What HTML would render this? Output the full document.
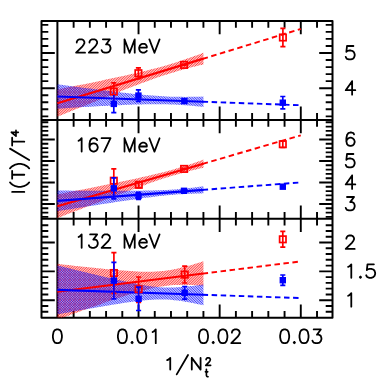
<!DOCTYPE html>
<html><head><meta charset="utf-8"><title>I(T)/T^4 vs 1/Nt^2</title>
<style>html,body{margin:0;padding:0;background:#fff;font-family:"Liberation Sans",sans-serif;}svg{display:block;}</style>
</head><body>
<svg width="382" height="382" viewBox="0 0 382 382">
<defs>
<clipPath id="c1"><rect x="41.50" y="20.90" width="291.00" height="99.00"/></clipPath>
<clipPath id="c2"><rect x="41.50" y="119.90" width="291.00" height="98.90"/></clipPath>
<clipPath id="c3"><rect x="41.50" y="218.80" width="291.00" height="99.00"/></clipPath>
</defs>
<rect width="382" height="382" fill="#fff"/>
<path d="M73.63 20.90V27.70M73.63 113.10V126.70M73.63 212.00V225.60M73.63 311.00V317.80M89.85 20.90V27.70M89.85 113.10V126.70M89.85 212.00V225.60M89.85 311.00V317.80M106.08 20.90V27.70M106.08 113.10V126.70M106.08 212.00V225.60M106.08 311.00V317.80M122.30 20.90V27.70M122.30 113.10V126.70M122.30 212.00V225.60M122.30 311.00V317.80M138.53 20.90V34.20M138.53 106.60V133.20M138.53 205.50V232.10M138.53 304.50V317.80M154.76 20.90V27.70M154.76 113.10V126.70M154.76 212.00V225.60M154.76 311.00V317.80M170.98 20.90V27.70M170.98 113.10V126.70M170.98 212.00V225.60M170.98 311.00V317.80M187.21 20.90V27.70M187.21 113.10V126.70M187.21 212.00V225.60M187.21 311.00V317.80M203.43 20.90V27.70M203.43 113.10V126.70M203.43 212.00V225.60M203.43 311.00V317.80M219.66 20.90V34.20M219.66 106.60V133.20M219.66 205.50V232.10M219.66 304.50V317.80M235.89 20.90V27.70M235.89 113.10V126.70M235.89 212.00V225.60M235.89 311.00V317.80M252.11 20.90V27.70M252.11 113.10V126.70M252.11 212.00V225.60M252.11 311.00V317.80M268.34 20.90V27.70M268.34 113.10V126.70M268.34 212.00V225.60M268.34 311.00V317.80M284.56 20.90V27.70M284.56 113.10V126.70M284.56 212.00V225.60M284.56 311.00V317.80M300.79 20.90V34.20M300.79 106.60V133.20M300.79 205.50V232.10M300.79 304.50V317.80M317.02 20.90V27.70M317.02 113.10V126.70M317.02 212.00V225.60M317.02 311.00V317.80M41.50 116.36H48.30M332.50 116.36H325.70M41.50 109.32H48.30M332.50 109.32H325.70M41.50 102.28H48.30M332.50 102.28H325.70M41.50 95.24H48.30M332.50 95.24H325.70M41.50 88.20H54.80M332.50 88.20H319.20M41.50 81.16H48.30M332.50 81.16H325.70M41.50 74.12H48.30M332.50 74.12H325.70M41.50 67.08H48.30M332.50 67.08H325.70M41.50 60.04H48.30M332.50 60.04H325.70M41.50 53.00H54.80M332.50 53.00H319.20M41.50 45.96H48.30M332.50 45.96H325.70M41.50 38.92H48.30M332.50 38.92H325.70M41.50 31.88H48.30M332.50 31.88H325.70M41.50 24.84H48.30M332.50 24.84H325.70M41.50 216.90H48.30M332.50 216.90H325.70M41.50 212.60H48.30M332.50 212.60H325.70M41.50 208.30H48.30M332.50 208.30H325.70M41.50 204.00H54.80M332.50 204.00H319.20M41.50 199.70H48.30M332.50 199.70H325.70M41.50 195.40H48.30M332.50 195.40H325.70M41.50 191.10H48.30M332.50 191.10H325.70M41.50 186.80H48.30M332.50 186.80H325.70M41.50 182.50H54.80M332.50 182.50H319.20M41.50 178.20H48.30M332.50 178.20H325.70M41.50 173.90H48.30M332.50 173.90H325.70M41.50 169.60H48.30M332.50 169.60H325.70M41.50 165.30H48.30M332.50 165.30H325.70M41.50 161.00H54.80M332.50 161.00H319.20M41.50 156.70H48.30M332.50 156.70H325.70M41.50 152.40H48.30M332.50 152.40H325.70M41.50 148.10H48.30M332.50 148.10H325.70M41.50 143.80H48.30M332.50 143.80H325.70M41.50 139.50H54.80M332.50 139.50H319.20M41.50 135.20H48.30M332.50 135.20H325.70M41.50 130.90H48.30M332.50 130.90H325.70M41.50 126.60H48.30M332.50 126.60H325.70M41.50 122.30H48.30M332.50 122.30H325.70M41.50 311.74H48.30M332.50 311.74H325.70M41.50 305.97H48.30M332.50 305.97H325.70M41.50 300.20H54.80M332.50 300.20H319.20M41.50 294.43H48.30M332.50 294.43H325.70M41.50 288.66H48.30M332.50 288.66H325.70M41.50 282.89H48.30M332.50 282.89H325.70M41.50 277.12H48.30M332.50 277.12H325.70M41.50 271.35H54.80M332.50 271.35H319.20M41.50 265.58H48.30M332.50 265.58H325.70M41.50 259.81H48.30M332.50 259.81H325.70M41.50 254.04H48.30M332.50 254.04H325.70M41.50 248.27H48.30M332.50 248.27H325.70M41.50 242.50H54.80M332.50 242.50H319.20M41.50 236.73H48.30M332.50 236.73H325.70M41.50 230.96H48.30M332.50 230.96H325.70M41.50 225.19H48.30M332.50 225.19H325.70" stroke="#000" stroke-width="1.90" fill="none"/>
<path d="M41.50 20.90H332.50V317.80H41.50Z M41.50 119.90H332.50 M41.50 218.80H332.50 M57.40 20.90V317.80" stroke="#000" stroke-width="2.00" fill="none" stroke-linejoin="round"/>
<g clip-path="url(#c1)">
<clipPath id="bc1red"><polygon points="57.40,89.51 61.05,88.78 64.70,88.05 68.35,87.32 72.00,86.59 75.65,85.85 79.31,85.12 82.96,84.38 86.61,83.63 90.26,82.89 93.91,82.14 97.56,81.39 101.21,80.63 104.86,79.87 108.51,79.10 112.16,78.33 115.81,77.55 119.46,76.77 123.12,75.97 126.77,75.17 130.42,74.35 134.07,73.52 137.72,72.68 141.37,71.82 145.02,70.94 148.67,70.04 152.32,69.12 155.97,68.17 159.62,67.19 163.27,66.18 166.93,65.13 170.58,64.05 174.23,62.94 177.88,61.78 181.53,60.59 185.18,59.37 188.83,58.12 192.48,56.83 196.13,55.52 199.78,54.19 203.43,52.84 203.43,64.43 199.78,65.31 196.13,66.20 192.48,67.12 188.83,68.06 185.18,69.03 181.53,70.04 177.88,71.08 174.23,72.15 170.58,73.26 166.93,74.40 163.27,75.59 159.62,76.80 155.97,78.05 152.32,79.33 148.67,80.63 145.02,81.96 141.37,83.31 137.72,84.67 134.07,86.06 130.42,87.46 126.77,88.87 123.12,90.29 119.46,91.72 115.81,93.16 112.16,94.61 108.51,96.07 104.86,97.53 101.21,98.99 97.56,100.46 93.91,101.94 90.26,103.42 86.61,104.90 82.96,106.38 79.31,107.87 75.65,109.36 72.00,110.85 68.35,112.34 64.70,113.84 61.05,115.34 57.40,116.84"/></clipPath>
<g clip-path="url(#bc1red)"><path d="M-43.60 119.90L55.40 20.90M-41.94 119.90L57.06 20.90M-40.27 119.90L58.73 20.90M-38.61 119.90L60.39 20.90M-36.94 119.90L62.06 20.90M-35.28 119.90L63.72 20.90M-33.62 119.90L65.38 20.90M-31.95 119.90L67.05 20.90M-30.29 119.90L68.71 20.90M-28.62 119.90L70.38 20.90M-26.96 119.90L72.04 20.90M-25.30 119.90L73.70 20.90M-23.63 119.90L75.37 20.90M-21.97 119.90L77.03 20.90M-20.30 119.90L78.70 20.90M-18.64 119.90L80.36 20.90M-16.98 119.90L82.02 20.90M-15.31 119.90L83.69 20.90M-13.65 119.90L85.35 20.90M-11.98 119.90L87.02 20.90M-10.32 119.90L88.68 20.90M-8.66 119.90L90.34 20.90M-6.99 119.90L92.01 20.90M-5.33 119.90L93.67 20.90M-3.66 119.90L95.34 20.90M-2.00 119.90L97.00 20.90M-0.34 119.90L98.66 20.90M1.33 119.90L100.33 20.90M2.99 119.90L101.99 20.90M4.66 119.90L103.66 20.90M6.32 119.90L105.32 20.90M7.98 119.90L106.98 20.90M9.65 119.90L108.65 20.90M11.31 119.90L110.31 20.90M12.98 119.90L111.98 20.90M14.64 119.90L113.64 20.90M16.30 119.90L115.30 20.90M17.97 119.90L116.97 20.90M19.63 119.90L118.63 20.90M21.30 119.90L120.30 20.90M22.96 119.90L121.96 20.90M24.62 119.90L123.62 20.90M26.29 119.90L125.29 20.90M27.95 119.90L126.95 20.90M29.62 119.90L128.62 20.90M31.28 119.90L130.28 20.90M32.94 119.90L131.94 20.90M34.61 119.90L133.61 20.90M36.27 119.90L135.27 20.90M37.94 119.90L136.94 20.90M39.60 119.90L138.60 20.90M41.26 119.90L140.26 20.90M42.93 119.90L141.93 20.90M44.59 119.90L143.59 20.90M46.26 119.90L145.26 20.90M47.92 119.90L146.92 20.90M49.58 119.90L148.58 20.90M51.25 119.90L150.25 20.90M52.91 119.90L151.91 20.90M54.58 119.90L153.58 20.90M56.24 119.90L155.24 20.90M57.90 119.90L156.90 20.90M59.57 119.90L158.57 20.90M61.23 119.90L160.23 20.90M62.90 119.90L161.90 20.90M64.56 119.90L163.56 20.90M66.22 119.90L165.22 20.90M67.89 119.90L166.89 20.90M69.55 119.90L168.55 20.90M71.22 119.90L170.22 20.90M72.88 119.90L171.88 20.90M74.54 119.90L173.54 20.90M76.21 119.90L175.21 20.90M77.87 119.90L176.87 20.90M79.54 119.90L178.54 20.90M81.20 119.90L180.20 20.90M82.86 119.90L181.86 20.90M84.53 119.90L183.53 20.90M86.19 119.90L185.19 20.90M87.86 119.90L186.86 20.90M89.52 119.90L188.52 20.90M91.18 119.90L190.18 20.90M92.85 119.90L191.85 20.90M94.51 119.90L193.51 20.90M96.18 119.90L195.18 20.90M97.84 119.90L196.84 20.90M99.50 119.90L198.50 20.90M101.17 119.90L200.17 20.90M102.83 119.90L201.83 20.90M104.50 119.90L203.50 20.90M106.16 119.90L205.16 20.90M107.82 119.90L206.82 20.90M109.49 119.90L208.49 20.90M111.15 119.90L210.15 20.90M112.82 119.90L211.82 20.90M114.48 119.90L213.48 20.90M116.14 119.90L215.14 20.90M117.81 119.90L216.81 20.90M119.47 119.90L218.47 20.90M121.14 119.90L220.14 20.90M122.80 119.90L221.80 20.90M124.46 119.90L223.46 20.90M126.13 119.90L225.13 20.90M127.79 119.90L226.79 20.90M129.46 119.90L228.46 20.90M131.12 119.90L230.12 20.90M132.78 119.90L231.78 20.90M134.45 119.90L233.45 20.90M136.11 119.90L235.11 20.90M137.78 119.90L236.78 20.90M139.44 119.90L238.44 20.90M141.10 119.90L240.10 20.90M142.77 119.90L241.77 20.90M144.43 119.90L243.43 20.90M146.10 119.90L245.10 20.90M147.76 119.90L246.76 20.90M149.42 119.90L248.42 20.90M151.09 119.90L250.09 20.90M152.75 119.90L251.75 20.90M154.42 119.90L253.42 20.90M156.08 119.90L255.08 20.90M157.74 119.90L256.74 20.90M159.41 119.90L258.41 20.90M161.07 119.90L260.07 20.90M162.74 119.90L261.74 20.90M164.40 119.90L263.40 20.90M166.06 119.90L265.06 20.90M167.73 119.90L266.73 20.90M169.39 119.90L268.39 20.90M171.06 119.90L270.06 20.90M172.72 119.90L271.72 20.90M174.38 119.90L273.38 20.90M176.05 119.90L275.05 20.90M177.71 119.90L276.71 20.90M179.38 119.90L278.38 20.90M181.04 119.90L280.04 20.90M182.70 119.90L281.70 20.90M184.37 119.90L283.37 20.90M186.03 119.90L285.03 20.90M187.70 119.90L286.70 20.90M189.36 119.90L288.36 20.90M191.02 119.90L290.02 20.90M192.69 119.90L291.69 20.90M194.35 119.90L293.35 20.90M196.02 119.90L295.02 20.90M197.68 119.90L296.68 20.90M199.34 119.90L298.34 20.90M201.01 119.90L300.01 20.90M202.67 119.90L301.67 20.90M204.34 119.90L303.34 20.90M206.00 119.90L305.00 20.90M207.66 119.90L306.66 20.90M209.33 119.90L308.33 20.90M210.99 119.90L309.99 20.90M212.66 119.90L311.66 20.90M214.32 119.90L313.32 20.90M215.98 119.90L314.98 20.90M217.65 119.90L316.65 20.90M219.31 119.90L318.31 20.90M220.98 119.90L319.98 20.90M222.64 119.90L321.64 20.90M224.30 119.90L323.30 20.90M225.97 119.90L324.97 20.90M227.63 119.90L326.63 20.90M229.30 119.90L328.30 20.90M230.96 119.90L329.96 20.90M232.62 119.90L331.62 20.90M234.29 119.90L333.29 20.90M235.95 119.90L334.95 20.90M237.62 119.90L336.62 20.90M239.28 119.90L338.28 20.90M240.94 119.90L339.94 20.90M242.61 119.90L341.61 20.90M244.27 119.90L343.27 20.90M245.94 119.90L344.94 20.90M247.60 119.90L346.60 20.90M249.26 119.90L348.26 20.90M250.93 119.90L349.93 20.90M252.59 119.90L351.59 20.90M254.26 119.90L353.26 20.90M255.92 119.90L354.92 20.90M257.58 119.90L356.58 20.90M259.25 119.90L358.25 20.90M260.91 119.90L359.91 20.90M262.58 119.90L361.58 20.90M264.24 119.90L363.24 20.90M265.90 119.90L364.90 20.90M267.57 119.90L366.57 20.90M269.23 119.90L368.23 20.90M270.90 119.90L369.90 20.90M272.56 119.90L371.56 20.90M274.22 119.90L373.22 20.90M275.89 119.90L374.89 20.90M277.55 119.90L376.55 20.90M279.22 119.90L378.22 20.90M280.88 119.90L379.88 20.90M282.54 119.90L381.54 20.90M284.21 119.90L383.21 20.90M285.87 119.90L384.87 20.90M287.54 119.90L386.54 20.90M289.20 119.90L388.20 20.90M290.86 119.90L389.86 20.90M292.53 119.90L391.53 20.90M294.19 119.90L393.19 20.90M295.86 119.90L394.86 20.90M297.52 119.90L396.52 20.90M299.18 119.90L398.18 20.90M300.85 119.90L399.85 20.90M302.51 119.90L401.51 20.90M304.18 119.90L403.18 20.90" stroke="#ff0000" stroke-width="0.74" fill="none"/></g>
<clipPath id="bc1blue"><polygon points="57.40,84.31 61.05,84.79 64.70,85.28 68.35,85.76 72.00,86.24 75.65,86.72 79.31,87.20 82.96,87.67 86.61,88.14 90.26,88.61 93.91,89.08 97.56,89.54 101.21,90.00 104.86,90.46 108.51,90.91 112.16,91.36 115.81,91.80 119.46,92.23 123.12,92.66 126.77,93.08 130.42,93.48 134.07,93.88 137.72,94.26 141.37,94.62 145.02,94.97 148.67,95.29 152.32,95.60 155.97,95.87 159.62,96.12 163.27,96.33 166.93,96.51 170.58,96.65 174.23,96.76 177.88,96.83 181.53,96.87 185.18,96.88 188.83,96.86 192.48,96.82 196.13,96.75 199.78,96.66 203.43,96.55 203.43,106.93 199.78,106.56 196.13,106.20 192.48,105.87 188.83,105.56 185.18,105.28 181.53,105.02 177.88,104.80 174.23,104.61 170.58,104.45 166.93,104.33 163.27,104.25 159.62,104.20 155.97,104.18 152.32,104.19 148.67,104.23 145.02,104.29 141.37,104.38 137.72,104.48 134.07,104.59 130.42,104.72 126.77,104.87 123.12,105.02 119.46,105.18 115.81,105.35 112.16,105.53 108.51,105.71 104.86,105.90 101.21,106.09 97.56,106.29 93.91,106.49 90.26,106.69 86.61,106.90 82.96,107.11 79.31,107.32 75.65,107.53 72.00,107.75 68.35,107.97 64.70,108.18 61.05,108.40 57.40,108.63"/></clipPath>
<g clip-path="url(#bc1blue)"><path d="M-43.60 20.90L55.40 119.90M-41.94 20.90L57.06 119.90M-40.27 20.90L58.73 119.90M-38.61 20.90L60.39 119.90M-36.94 20.90L62.06 119.90M-35.28 20.90L63.72 119.90M-33.62 20.90L65.38 119.90M-31.95 20.90L67.05 119.90M-30.29 20.90L68.71 119.90M-28.62 20.90L70.38 119.90M-26.96 20.90L72.04 119.90M-25.30 20.90L73.70 119.90M-23.63 20.90L75.37 119.90M-21.97 20.90L77.03 119.90M-20.30 20.90L78.70 119.90M-18.64 20.90L80.36 119.90M-16.98 20.90L82.02 119.90M-15.31 20.90L83.69 119.90M-13.65 20.90L85.35 119.90M-11.98 20.90L87.02 119.90M-10.32 20.90L88.68 119.90M-8.66 20.90L90.34 119.90M-6.99 20.90L92.01 119.90M-5.33 20.90L93.67 119.90M-3.66 20.90L95.34 119.90M-2.00 20.90L97.00 119.90M-0.34 20.90L98.66 119.90M1.33 20.90L100.33 119.90M2.99 20.90L101.99 119.90M4.66 20.90L103.66 119.90M6.32 20.90L105.32 119.90M7.98 20.90L106.98 119.90M9.65 20.90L108.65 119.90M11.31 20.90L110.31 119.90M12.98 20.90L111.98 119.90M14.64 20.90L113.64 119.90M16.30 20.90L115.30 119.90M17.97 20.90L116.97 119.90M19.63 20.90L118.63 119.90M21.30 20.90L120.30 119.90M22.96 20.90L121.96 119.90M24.62 20.90L123.62 119.90M26.29 20.90L125.29 119.90M27.95 20.90L126.95 119.90M29.62 20.90L128.62 119.90M31.28 20.90L130.28 119.90M32.94 20.90L131.94 119.90M34.61 20.90L133.61 119.90M36.27 20.90L135.27 119.90M37.94 20.90L136.94 119.90M39.60 20.90L138.60 119.90M41.26 20.90L140.26 119.90M42.93 20.90L141.93 119.90M44.59 20.90L143.59 119.90M46.26 20.90L145.26 119.90M47.92 20.90L146.92 119.90M49.58 20.90L148.58 119.90M51.25 20.90L150.25 119.90M52.91 20.90L151.91 119.90M54.58 20.90L153.58 119.90M56.24 20.90L155.24 119.90M57.90 20.90L156.90 119.90M59.57 20.90L158.57 119.90M61.23 20.90L160.23 119.90M62.90 20.90L161.90 119.90M64.56 20.90L163.56 119.90M66.22 20.90L165.22 119.90M67.89 20.90L166.89 119.90M69.55 20.90L168.55 119.90M71.22 20.90L170.22 119.90M72.88 20.90L171.88 119.90M74.54 20.90L173.54 119.90M76.21 20.90L175.21 119.90M77.87 20.90L176.87 119.90M79.54 20.90L178.54 119.90M81.20 20.90L180.20 119.90M82.86 20.90L181.86 119.90M84.53 20.90L183.53 119.90M86.19 20.90L185.19 119.90M87.86 20.90L186.86 119.90M89.52 20.90L188.52 119.90M91.18 20.90L190.18 119.90M92.85 20.90L191.85 119.90M94.51 20.90L193.51 119.90M96.18 20.90L195.18 119.90M97.84 20.90L196.84 119.90M99.50 20.90L198.50 119.90M101.17 20.90L200.17 119.90M102.83 20.90L201.83 119.90M104.50 20.90L203.50 119.90M106.16 20.90L205.16 119.90M107.82 20.90L206.82 119.90M109.49 20.90L208.49 119.90M111.15 20.90L210.15 119.90M112.82 20.90L211.82 119.90M114.48 20.90L213.48 119.90M116.14 20.90L215.14 119.90M117.81 20.90L216.81 119.90M119.47 20.90L218.47 119.90M121.14 20.90L220.14 119.90M122.80 20.90L221.80 119.90M124.46 20.90L223.46 119.90M126.13 20.90L225.13 119.90M127.79 20.90L226.79 119.90M129.46 20.90L228.46 119.90M131.12 20.90L230.12 119.90M132.78 20.90L231.78 119.90M134.45 20.90L233.45 119.90M136.11 20.90L235.11 119.90M137.78 20.90L236.78 119.90M139.44 20.90L238.44 119.90M141.10 20.90L240.10 119.90M142.77 20.90L241.77 119.90M144.43 20.90L243.43 119.90M146.10 20.90L245.10 119.90M147.76 20.90L246.76 119.90M149.42 20.90L248.42 119.90M151.09 20.90L250.09 119.90M152.75 20.90L251.75 119.90M154.42 20.90L253.42 119.90M156.08 20.90L255.08 119.90M157.74 20.90L256.74 119.90M159.41 20.90L258.41 119.90M161.07 20.90L260.07 119.90M162.74 20.90L261.74 119.90M164.40 20.90L263.40 119.90M166.06 20.90L265.06 119.90M167.73 20.90L266.73 119.90M169.39 20.90L268.39 119.90M171.06 20.90L270.06 119.90M172.72 20.90L271.72 119.90M174.38 20.90L273.38 119.90M176.05 20.90L275.05 119.90M177.71 20.90L276.71 119.90M179.38 20.90L278.38 119.90M181.04 20.90L280.04 119.90M182.70 20.90L281.70 119.90M184.37 20.90L283.37 119.90M186.03 20.90L285.03 119.90M187.70 20.90L286.70 119.90M189.36 20.90L288.36 119.90M191.02 20.90L290.02 119.90M192.69 20.90L291.69 119.90M194.35 20.90L293.35 119.90M196.02 20.90L295.02 119.90M197.68 20.90L296.68 119.90M199.34 20.90L298.34 119.90M201.01 20.90L300.01 119.90M202.67 20.90L301.67 119.90M204.34 20.90L303.34 119.90M206.00 20.90L305.00 119.90M207.66 20.90L306.66 119.90M209.33 20.90L308.33 119.90M210.99 20.90L309.99 119.90M212.66 20.90L311.66 119.90M214.32 20.90L313.32 119.90M215.98 20.90L314.98 119.90M217.65 20.90L316.65 119.90M219.31 20.90L318.31 119.90M220.98 20.90L319.98 119.90M222.64 20.90L321.64 119.90M224.30 20.90L323.30 119.90M225.97 20.90L324.97 119.90M227.63 20.90L326.63 119.90M229.30 20.90L328.30 119.90M230.96 20.90L329.96 119.90M232.62 20.90L331.62 119.90M234.29 20.90L333.29 119.90M235.95 20.90L334.95 119.90M237.62 20.90L336.62 119.90M239.28 20.90L338.28 119.90M240.94 20.90L339.94 119.90M242.61 20.90L341.61 119.90M244.27 20.90L343.27 119.90M245.94 20.90L344.94 119.90M247.60 20.90L346.60 119.90M249.26 20.90L348.26 119.90M250.93 20.90L349.93 119.90M252.59 20.90L351.59 119.90M254.26 20.90L353.26 119.90M255.92 20.90L354.92 119.90M257.58 20.90L356.58 119.90M259.25 20.90L358.25 119.90M260.91 20.90L359.91 119.90M262.58 20.90L361.58 119.90M264.24 20.90L363.24 119.90M265.90 20.90L364.90 119.90M267.57 20.90L366.57 119.90M269.23 20.90L368.23 119.90M270.90 20.90L369.90 119.90M272.56 20.90L371.56 119.90M274.22 20.90L373.22 119.90M275.89 20.90L374.89 119.90M277.55 20.90L376.55 119.90M279.22 20.90L378.22 119.90M280.88 20.90L379.88 119.90M282.54 20.90L381.54 119.90M284.21 20.90L383.21 119.90M285.87 20.90L384.87 119.90M287.54 20.90L386.54 119.90M289.20 20.90L388.20 119.90M290.86 20.90L389.86 119.90M292.53 20.90L391.53 119.90M294.19 20.90L393.19 119.90M295.86 20.90L394.86 119.90M297.52 20.90L396.52 119.90M299.18 20.90L398.18 119.90M300.85 20.90L399.85 119.90M302.51 20.90L401.51 119.90M304.18 20.90L403.18 119.90" stroke="#0000ff" stroke-width="0.74" fill="none"/></g>
<line x1="57.40" y1="103.17" x2="203.43" y2="58.63" stroke="#ff0000" stroke-width="2.15"/>
<line x1="202.60" y1="58.89" x2="300.79" y2="28.94" stroke="#ff0000" stroke-width="1.90" stroke-dasharray="5.5 3.55"/>
<line x1="57.40" y1="96.47" x2="203.43" y2="101.74" stroke="#0000ff" stroke-width="2.15"/>
<line x1="202.60" y1="101.71" x2="300.79" y2="105.25" stroke="#0000ff" stroke-width="1.90" stroke-dasharray="5.5 3.55"/>
<path d="M113.80 82.90V100.50M111.25 82.90H116.35" stroke="#ff0000" stroke-width="1.70" fill="none"/>
<rect x="110.60" y="88.40" width="6.40" height="6.40" fill="none" stroke="#ff0000" stroke-width="1.7"/>
<path d="M138.40 67.80V78.60M135.85 67.80H140.95M135.85 78.60H140.95" stroke="#ff0000" stroke-width="1.70" fill="none"/>
<rect x="135.20" y="70.00" width="6.40" height="6.40" fill="none" stroke="#ff0000" stroke-width="1.7"/>
<path d="M184.10 64.30V65.50M181.55 64.30H186.65M181.55 65.50H186.65" stroke="#ff0000" stroke-width="1.70" fill="none"/>
<rect x="180.90" y="61.70" width="6.40" height="6.40" fill="none" stroke="#ff0000" stroke-width="1.7"/>
<path d="M282.90 28.30V46.70M280.35 28.30H285.45M280.35 46.70H285.45" stroke="#ff0000" stroke-width="1.70" fill="none"/>
<rect x="279.70" y="34.30" width="6.40" height="6.40" fill="none" stroke="#ff0000" stroke-width="1.7"/>
<path d="M113.80 95.10V112.70M111.25 112.70H116.35" stroke="#0000ff" stroke-width="1.70" fill="none"/>
<rect x="110.60" y="100.70" width="6.40" height="6.40" fill="#0000ff"/>
<path d="M138.40 89.80V101.40M135.85 89.80H140.95M135.85 101.40H140.95" stroke="#0000ff" stroke-width="1.70" fill="none"/>
<rect x="135.20" y="92.40" width="6.40" height="6.40" fill="#0000ff"/>
<path d="M184.40 99.40V102.60M181.85 99.40H186.95M181.85 102.60H186.95" stroke="#0000ff" stroke-width="1.70" fill="none"/>
<rect x="181.20" y="97.80" width="6.40" height="6.40" fill="#0000ff"/>
<path d="M282.80 96.50V108.90M280.25 96.50H285.35M280.25 108.90H285.35" stroke="#0000ff" stroke-width="1.70" fill="none"/>
<rect x="279.60" y="99.50" width="6.40" height="6.40" fill="#0000ff"/>
</g>
<g clip-path="url(#c2)">
<clipPath id="bc2red"><polygon points="57.40,194.46 61.05,193.74 64.70,193.02 68.35,192.29 72.00,191.57 75.65,190.84 79.31,190.11 82.96,189.39 86.61,188.66 90.26,187.93 93.91,187.19 97.56,186.46 101.21,185.72 104.86,184.98 108.51,184.24 112.16,183.50 115.81,182.75 119.46,182.00 123.12,181.24 126.77,180.48 130.42,179.71 134.07,178.93 137.72,178.14 141.37,177.34 145.02,176.53 148.67,175.71 152.32,174.86 155.97,174.00 159.62,173.10 163.27,172.18 166.93,171.22 170.58,170.23 174.23,169.19 177.88,168.12 181.53,167.00 185.18,165.84 188.83,164.65 192.48,163.43 196.13,162.17 199.78,160.90 203.43,159.60 203.43,167.76 199.78,168.59 196.13,169.44 192.48,170.32 188.83,171.22 185.18,172.16 181.53,173.13 177.88,174.14 174.23,175.20 170.58,176.29 166.93,177.43 163.27,178.60 159.62,179.80 155.97,181.04 152.32,182.30 148.67,183.59 145.02,184.89 141.37,186.21 137.72,187.54 134.07,188.88 130.42,190.24 126.77,191.60 123.12,192.96 119.46,194.33 115.81,195.71 112.16,197.09 108.51,198.47 104.86,199.86 101.21,201.25 97.56,202.64 93.91,204.04 90.26,205.44 86.61,206.83 82.96,208.23 79.31,209.64 75.65,211.04 72.00,212.44 68.35,213.85 64.70,215.25 61.05,216.66 57.40,218.06"/></clipPath>
<g clip-path="url(#bc2red)"><path d="M-43.50 218.80L55.40 119.90M-41.84 218.80L57.06 119.90M-40.17 218.80L58.73 119.90M-38.51 218.80L60.39 119.90M-36.84 218.80L62.06 119.90M-35.18 218.80L63.72 119.90M-33.52 218.80L65.38 119.90M-31.85 218.80L67.05 119.90M-30.19 218.80L68.71 119.90M-28.52 218.80L70.38 119.90M-26.86 218.80L72.04 119.90M-25.20 218.80L73.70 119.90M-23.53 218.80L75.37 119.90M-21.87 218.80L77.03 119.90M-20.20 218.80L78.70 119.90M-18.54 218.80L80.36 119.90M-16.88 218.80L82.02 119.90M-15.21 218.80L83.69 119.90M-13.55 218.80L85.35 119.90M-11.88 218.80L87.02 119.90M-10.22 218.80L88.68 119.90M-8.56 218.80L90.34 119.90M-6.89 218.80L92.01 119.90M-5.23 218.80L93.67 119.90M-3.56 218.80L95.34 119.90M-1.90 218.80L97.00 119.90M-0.24 218.80L98.66 119.90M1.43 218.80L100.33 119.90M3.09 218.80L101.99 119.90M4.76 218.80L103.66 119.90M6.42 218.80L105.32 119.90M8.08 218.80L106.98 119.90M9.75 218.80L108.65 119.90M11.41 218.80L110.31 119.90M13.08 218.80L111.98 119.90M14.74 218.80L113.64 119.90M16.40 218.80L115.30 119.90M18.07 218.80L116.97 119.90M19.73 218.80L118.63 119.90M21.40 218.80L120.30 119.90M23.06 218.80L121.96 119.90M24.72 218.80L123.62 119.90M26.39 218.80L125.29 119.90M28.05 218.80L126.95 119.90M29.72 218.80L128.62 119.90M31.38 218.80L130.28 119.90M33.04 218.80L131.94 119.90M34.71 218.80L133.61 119.90M36.37 218.80L135.27 119.90M38.04 218.80L136.94 119.90M39.70 218.80L138.60 119.90M41.36 218.80L140.26 119.90M43.03 218.80L141.93 119.90M44.69 218.80L143.59 119.90M46.36 218.80L145.26 119.90M48.02 218.80L146.92 119.90M49.68 218.80L148.58 119.90M51.35 218.80L150.25 119.90M53.01 218.80L151.91 119.90M54.68 218.80L153.58 119.90M56.34 218.80L155.24 119.90M58.00 218.80L156.90 119.90M59.67 218.80L158.57 119.90M61.33 218.80L160.23 119.90M63.00 218.80L161.90 119.90M64.66 218.80L163.56 119.90M66.32 218.80L165.22 119.90M67.99 218.80L166.89 119.90M69.65 218.80L168.55 119.90M71.32 218.80L170.22 119.90M72.98 218.80L171.88 119.90M74.64 218.80L173.54 119.90M76.31 218.80L175.21 119.90M77.97 218.80L176.87 119.90M79.64 218.80L178.54 119.90M81.30 218.80L180.20 119.90M82.96 218.80L181.86 119.90M84.63 218.80L183.53 119.90M86.29 218.80L185.19 119.90M87.96 218.80L186.86 119.90M89.62 218.80L188.52 119.90M91.28 218.80L190.18 119.90M92.95 218.80L191.85 119.90M94.61 218.80L193.51 119.90M96.28 218.80L195.18 119.90M97.94 218.80L196.84 119.90M99.60 218.80L198.50 119.90M101.27 218.80L200.17 119.90M102.93 218.80L201.83 119.90M104.60 218.80L203.50 119.90M106.26 218.80L205.16 119.90M107.92 218.80L206.82 119.90M109.59 218.80L208.49 119.90M111.25 218.80L210.15 119.90M112.92 218.80L211.82 119.90M114.58 218.80L213.48 119.90M116.24 218.80L215.14 119.90M117.91 218.80L216.81 119.90M119.57 218.80L218.47 119.90M121.24 218.80L220.14 119.90M122.90 218.80L221.80 119.90M124.56 218.80L223.46 119.90M126.23 218.80L225.13 119.90M127.89 218.80L226.79 119.90M129.56 218.80L228.46 119.90M131.22 218.80L230.12 119.90M132.88 218.80L231.78 119.90M134.55 218.80L233.45 119.90M136.21 218.80L235.11 119.90M137.88 218.80L236.78 119.90M139.54 218.80L238.44 119.90M141.20 218.80L240.10 119.90M142.87 218.80L241.77 119.90M144.53 218.80L243.43 119.90M146.20 218.80L245.10 119.90M147.86 218.80L246.76 119.90M149.52 218.80L248.42 119.90M151.19 218.80L250.09 119.90M152.85 218.80L251.75 119.90M154.52 218.80L253.42 119.90M156.18 218.80L255.08 119.90M157.84 218.80L256.74 119.90M159.51 218.80L258.41 119.90M161.17 218.80L260.07 119.90M162.84 218.80L261.74 119.90M164.50 218.80L263.40 119.90M166.16 218.80L265.06 119.90M167.83 218.80L266.73 119.90M169.49 218.80L268.39 119.90M171.16 218.80L270.06 119.90M172.82 218.80L271.72 119.90M174.48 218.80L273.38 119.90M176.15 218.80L275.05 119.90M177.81 218.80L276.71 119.90M179.48 218.80L278.38 119.90M181.14 218.80L280.04 119.90M182.80 218.80L281.70 119.90M184.47 218.80L283.37 119.90M186.13 218.80L285.03 119.90M187.80 218.80L286.70 119.90M189.46 218.80L288.36 119.90M191.12 218.80L290.02 119.90M192.79 218.80L291.69 119.90M194.45 218.80L293.35 119.90M196.12 218.80L295.02 119.90M197.78 218.80L296.68 119.90M199.44 218.80L298.34 119.90M201.11 218.80L300.01 119.90M202.77 218.80L301.67 119.90M204.44 218.80L303.34 119.90M206.10 218.80L305.00 119.90M207.76 218.80L306.66 119.90M209.43 218.80L308.33 119.90M211.09 218.80L309.99 119.90M212.76 218.80L311.66 119.90M214.42 218.80L313.32 119.90M216.08 218.80L314.98 119.90M217.75 218.80L316.65 119.90M219.41 218.80L318.31 119.90M221.08 218.80L319.98 119.90M222.74 218.80L321.64 119.90M224.40 218.80L323.30 119.90M226.07 218.80L324.97 119.90M227.73 218.80L326.63 119.90M229.40 218.80L328.30 119.90M231.06 218.80L329.96 119.90M232.72 218.80L331.62 119.90M234.39 218.80L333.29 119.90M236.05 218.80L334.95 119.90M237.72 218.80L336.62 119.90M239.38 218.80L338.28 119.90M241.04 218.80L339.94 119.90M242.71 218.80L341.61 119.90M244.37 218.80L343.27 119.90M246.04 218.80L344.94 119.90M247.70 218.80L346.60 119.90M249.36 218.80L348.26 119.90M251.03 218.80L349.93 119.90M252.69 218.80L351.59 119.90M254.36 218.80L353.26 119.90M256.02 218.80L354.92 119.90M257.68 218.80L356.58 119.90M259.35 218.80L358.25 119.90M261.01 218.80L359.91 119.90M262.68 218.80L361.58 119.90M264.34 218.80L363.24 119.90M266.00 218.80L364.90 119.90M267.67 218.80L366.57 119.90M269.33 218.80L368.23 119.90M271.00 218.80L369.90 119.90M272.66 218.80L371.56 119.90M274.32 218.80L373.22 119.90M275.99 218.80L374.89 119.90M277.65 218.80L376.55 119.90M279.32 218.80L378.22 119.90M280.98 218.80L379.88 119.90M282.64 218.80L381.54 119.90M284.31 218.80L383.21 119.90M285.97 218.80L384.87 119.90M287.64 218.80L386.54 119.90M289.30 218.80L388.20 119.90M290.96 218.80L389.86 119.90M292.63 218.80L391.53 119.90M294.29 218.80L393.19 119.90M295.96 218.80L394.86 119.90M297.62 218.80L396.52 119.90M299.28 218.80L398.18 119.90M300.95 218.80L399.85 119.90M302.61 218.80L401.51 119.90M304.28 218.80L403.18 119.90" stroke="#ff0000" stroke-width="0.74" fill="none"/></g>
<clipPath id="bc2blue"><polygon points="57.40,190.56 61.05,190.58 64.70,190.60 68.35,190.62 72.00,190.64 75.65,190.66 79.31,190.68 82.96,190.70 86.61,190.72 90.26,190.73 93.91,190.75 97.56,190.76 101.21,190.77 104.86,190.78 108.51,190.79 112.16,190.79 115.81,190.79 119.46,190.79 123.12,190.78 126.77,190.77 130.42,190.75 134.07,190.73 137.72,190.69 141.37,190.65 145.02,190.60 148.67,190.53 152.32,190.45 155.97,190.35 159.62,190.22 163.27,190.07 166.93,189.89 170.58,189.67 174.23,189.42 177.88,189.14 181.53,188.81 185.18,188.46 188.83,188.07 192.48,187.65 196.13,187.21 199.78,186.75 203.43,186.27 203.43,193.36 199.78,193.43 196.13,193.52 192.48,193.64 188.83,193.77 185.18,193.93 181.53,194.13 177.88,194.36 174.23,194.63 170.58,194.93 166.93,195.27 163.27,195.64 159.62,196.04 155.97,196.47 152.32,196.92 148.67,197.39 145.02,197.87 141.37,198.37 137.72,198.88 134.07,199.40 130.42,199.93 126.77,200.47 123.12,201.01 119.46,201.55 115.81,202.10 112.16,202.65 108.51,203.21 104.86,203.77 101.21,204.33 97.56,204.89 93.91,205.46 90.26,206.03 86.61,206.60 82.96,207.17 79.31,207.74 75.65,208.31 72.00,208.88 68.35,209.45 64.70,210.03 61.05,210.60 57.40,211.18"/></clipPath>
<g clip-path="url(#bc2blue)"><path d="M-43.50 119.90L55.40 218.80M-41.84 119.90L57.06 218.80M-40.17 119.90L58.73 218.80M-38.51 119.90L60.39 218.80M-36.84 119.90L62.06 218.80M-35.18 119.90L63.72 218.80M-33.52 119.90L65.38 218.80M-31.85 119.90L67.05 218.80M-30.19 119.90L68.71 218.80M-28.52 119.90L70.38 218.80M-26.86 119.90L72.04 218.80M-25.20 119.90L73.70 218.80M-23.53 119.90L75.37 218.80M-21.87 119.90L77.03 218.80M-20.20 119.90L78.70 218.80M-18.54 119.90L80.36 218.80M-16.88 119.90L82.02 218.80M-15.21 119.90L83.69 218.80M-13.55 119.90L85.35 218.80M-11.88 119.90L87.02 218.80M-10.22 119.90L88.68 218.80M-8.56 119.90L90.34 218.80M-6.89 119.90L92.01 218.80M-5.23 119.90L93.67 218.80M-3.56 119.90L95.34 218.80M-1.90 119.90L97.00 218.80M-0.24 119.90L98.66 218.80M1.43 119.90L100.33 218.80M3.09 119.90L101.99 218.80M4.76 119.90L103.66 218.80M6.42 119.90L105.32 218.80M8.08 119.90L106.98 218.80M9.75 119.90L108.65 218.80M11.41 119.90L110.31 218.80M13.08 119.90L111.98 218.80M14.74 119.90L113.64 218.80M16.40 119.90L115.30 218.80M18.07 119.90L116.97 218.80M19.73 119.90L118.63 218.80M21.40 119.90L120.30 218.80M23.06 119.90L121.96 218.80M24.72 119.90L123.62 218.80M26.39 119.90L125.29 218.80M28.05 119.90L126.95 218.80M29.72 119.90L128.62 218.80M31.38 119.90L130.28 218.80M33.04 119.90L131.94 218.80M34.71 119.90L133.61 218.80M36.37 119.90L135.27 218.80M38.04 119.90L136.94 218.80M39.70 119.90L138.60 218.80M41.36 119.90L140.26 218.80M43.03 119.90L141.93 218.80M44.69 119.90L143.59 218.80M46.36 119.90L145.26 218.80M48.02 119.90L146.92 218.80M49.68 119.90L148.58 218.80M51.35 119.90L150.25 218.80M53.01 119.90L151.91 218.80M54.68 119.90L153.58 218.80M56.34 119.90L155.24 218.80M58.00 119.90L156.90 218.80M59.67 119.90L158.57 218.80M61.33 119.90L160.23 218.80M63.00 119.90L161.90 218.80M64.66 119.90L163.56 218.80M66.32 119.90L165.22 218.80M67.99 119.90L166.89 218.80M69.65 119.90L168.55 218.80M71.32 119.90L170.22 218.80M72.98 119.90L171.88 218.80M74.64 119.90L173.54 218.80M76.31 119.90L175.21 218.80M77.97 119.90L176.87 218.80M79.64 119.90L178.54 218.80M81.30 119.90L180.20 218.80M82.96 119.90L181.86 218.80M84.63 119.90L183.53 218.80M86.29 119.90L185.19 218.80M87.96 119.90L186.86 218.80M89.62 119.90L188.52 218.80M91.28 119.90L190.18 218.80M92.95 119.90L191.85 218.80M94.61 119.90L193.51 218.80M96.28 119.90L195.18 218.80M97.94 119.90L196.84 218.80M99.60 119.90L198.50 218.80M101.27 119.90L200.17 218.80M102.93 119.90L201.83 218.80M104.60 119.90L203.50 218.80M106.26 119.90L205.16 218.80M107.92 119.90L206.82 218.80M109.59 119.90L208.49 218.80M111.25 119.90L210.15 218.80M112.92 119.90L211.82 218.80M114.58 119.90L213.48 218.80M116.24 119.90L215.14 218.80M117.91 119.90L216.81 218.80M119.57 119.90L218.47 218.80M121.24 119.90L220.14 218.80M122.90 119.90L221.80 218.80M124.56 119.90L223.46 218.80M126.23 119.90L225.13 218.80M127.89 119.90L226.79 218.80M129.56 119.90L228.46 218.80M131.22 119.90L230.12 218.80M132.88 119.90L231.78 218.80M134.55 119.90L233.45 218.80M136.21 119.90L235.11 218.80M137.88 119.90L236.78 218.80M139.54 119.90L238.44 218.80M141.20 119.90L240.10 218.80M142.87 119.90L241.77 218.80M144.53 119.90L243.43 218.80M146.20 119.90L245.10 218.80M147.86 119.90L246.76 218.80M149.52 119.90L248.42 218.80M151.19 119.90L250.09 218.80M152.85 119.90L251.75 218.80M154.52 119.90L253.42 218.80M156.18 119.90L255.08 218.80M157.84 119.90L256.74 218.80M159.51 119.90L258.41 218.80M161.17 119.90L260.07 218.80M162.84 119.90L261.74 218.80M164.50 119.90L263.40 218.80M166.16 119.90L265.06 218.80M167.83 119.90L266.73 218.80M169.49 119.90L268.39 218.80M171.16 119.90L270.06 218.80M172.82 119.90L271.72 218.80M174.48 119.90L273.38 218.80M176.15 119.90L275.05 218.80M177.81 119.90L276.71 218.80M179.48 119.90L278.38 218.80M181.14 119.90L280.04 218.80M182.80 119.90L281.70 218.80M184.47 119.90L283.37 218.80M186.13 119.90L285.03 218.80M187.80 119.90L286.70 218.80M189.46 119.90L288.36 218.80M191.12 119.90L290.02 218.80M192.79 119.90L291.69 218.80M194.45 119.90L293.35 218.80M196.12 119.90L295.02 218.80M197.78 119.90L296.68 218.80M199.44 119.90L298.34 218.80M201.11 119.90L300.01 218.80M202.77 119.90L301.67 218.80M204.44 119.90L303.34 218.80M206.10 119.90L305.00 218.80M207.76 119.90L306.66 218.80M209.43 119.90L308.33 218.80M211.09 119.90L309.99 218.80M212.76 119.90L311.66 218.80M214.42 119.90L313.32 218.80M216.08 119.90L314.98 218.80M217.75 119.90L316.65 218.80M219.41 119.90L318.31 218.80M221.08 119.90L319.98 218.80M222.74 119.90L321.64 218.80M224.40 119.90L323.30 218.80M226.07 119.90L324.97 218.80M227.73 119.90L326.63 218.80M229.40 119.90L328.30 218.80M231.06 119.90L329.96 218.80M232.72 119.90L331.62 218.80M234.39 119.90L333.29 218.80M236.05 119.90L334.95 218.80M237.72 119.90L336.62 218.80M239.38 119.90L338.28 218.80M241.04 119.90L339.94 218.80M242.71 119.90L341.61 218.80M244.37 119.90L343.27 218.80M246.04 119.90L344.94 218.80M247.70 119.90L346.60 218.80M249.36 119.90L348.26 218.80M251.03 119.90L349.93 218.80M252.69 119.90L351.59 218.80M254.36 119.90L353.26 218.80M256.02 119.90L354.92 218.80M257.68 119.90L356.58 218.80M259.35 119.90L358.25 218.80M261.01 119.90L359.91 218.80M262.68 119.90L361.58 218.80M264.34 119.90L363.24 218.80M266.00 119.90L364.90 218.80M267.67 119.90L366.57 218.80M269.33 119.90L368.23 218.80M271.00 119.90L369.90 218.80M272.66 119.90L371.56 218.80M274.32 119.90L373.22 218.80M275.99 119.90L374.89 218.80M277.65 119.90L376.55 218.80M279.32 119.90L378.22 218.80M280.98 119.90L379.88 218.80M282.64 119.90L381.54 218.80M284.31 119.90L383.21 218.80M285.97 119.90L384.87 218.80M287.64 119.90L386.54 218.80M289.30 119.90L388.20 218.80M290.96 119.90L389.86 218.80M292.63 119.90L391.53 218.80M294.29 119.90L393.19 218.80M295.96 119.90L394.86 218.80M297.62 119.90L396.52 218.80M299.28 119.90L398.18 218.80M300.95 119.90L399.85 218.80M302.61 119.90L401.51 218.80M304.28 119.90L403.18 218.80" stroke="#0000ff" stroke-width="0.74" fill="none"/></g>
<line x1="57.40" y1="206.26" x2="203.43" y2="163.68" stroke="#ff0000" stroke-width="2.15"/>
<line x1="202.60" y1="163.92" x2="300.79" y2="135.29" stroke="#ff0000" stroke-width="1.90" stroke-dasharray="5.5 3.55"/>
<line x1="57.40" y1="200.87" x2="203.43" y2="189.81" stroke="#0000ff" stroke-width="2.15"/>
<line x1="202.60" y1="189.88" x2="300.79" y2="182.44" stroke="#0000ff" stroke-width="1.90" stroke-dasharray="5.5 3.55"/>
<path d="M113.80 168.80V192.60M111.25 168.80H116.35M111.25 192.60H116.35" stroke="#ff0000" stroke-width="1.70" fill="none"/>
<rect x="110.60" y="177.50" width="6.40" height="6.40" fill="none" stroke="#ff0000" stroke-width="1.7"/>
<path d="M138.80 182.00V187.60M136.25 182.00H141.35M136.25 187.60H141.35" stroke="#ff0000" stroke-width="1.70" fill="none"/>
<rect x="135.60" y="181.60" width="6.40" height="6.40" fill="none" stroke="#ff0000" stroke-width="1.7"/>
<path d="M184.10 168.30V169.50M181.55 168.30H186.65M181.55 169.50H186.65" stroke="#ff0000" stroke-width="1.70" fill="none"/>
<rect x="180.90" y="165.70" width="6.40" height="6.40" fill="none" stroke="#ff0000" stroke-width="1.7"/>
<path d="M282.80 140.90V147.50M280.25 140.90H285.35M280.25 147.50H285.35" stroke="#ff0000" stroke-width="1.70" fill="none"/>
<rect x="279.60" y="141.00" width="6.40" height="6.40" fill="none" stroke="#ff0000" stroke-width="1.7"/>
<path d="M113.80 177.80V198.80M111.25 177.80H116.35M111.25 198.80H116.35" stroke="#0000ff" stroke-width="1.70" fill="none"/>
<rect x="110.60" y="185.10" width="6.40" height="6.40" fill="#0000ff"/>
<path d="M138.50 192.30V199.50M135.95 192.30H141.05M135.95 199.50H141.05" stroke="#0000ff" stroke-width="1.70" fill="none"/>
<rect x="135.30" y="192.70" width="6.40" height="6.40" fill="#0000ff"/>
<path d="M184.00 189.80V191.80M181.45 189.80H186.55M181.45 191.80H186.55" stroke="#0000ff" stroke-width="1.70" fill="none"/>
<rect x="180.80" y="187.60" width="6.40" height="6.40" fill="#0000ff"/>
<path d="M282.80 185.70V187.70M280.25 185.70H285.35M280.25 187.70H285.35" stroke="#0000ff" stroke-width="1.70" fill="none"/>
<rect x="279.60" y="183.50" width="6.40" height="6.40" fill="#0000ff"/>
</g>
<g clip-path="url(#c3)">
<clipPath id="bc3red"><polygon points="57.40,263.80 61.05,264.22 64.70,264.64 68.35,265.06 72.00,265.47 75.65,265.88 79.31,266.28 82.96,266.68 86.61,267.08 90.26,267.47 93.91,267.86 97.56,268.24 101.21,268.61 104.86,268.97 108.51,269.33 112.16,269.67 115.81,269.99 119.46,270.31 123.12,270.60 126.77,270.87 130.42,271.11 134.07,271.33 137.72,271.50 141.37,271.63 145.02,271.70 148.67,271.72 152.32,271.65 155.97,271.50 159.62,271.26 163.27,270.91 166.93,270.45 170.58,269.88 174.23,269.21 177.88,268.45 181.53,267.60 185.18,266.67 188.83,265.68 192.48,264.64 196.13,263.56 199.78,262.43 203.43,261.28 203.43,285.76 199.78,285.51 196.13,285.30 192.48,285.12 188.83,284.99 185.18,284.91 181.53,284.89 177.88,284.95 174.23,285.10 170.58,285.34 166.93,285.68 163.27,286.13 159.62,286.69 155.97,287.36 152.32,288.12 148.67,288.96 145.02,289.88 141.37,290.87 137.72,291.91 134.07,292.99 130.42,294.12 126.77,295.27 123.12,296.45 119.46,297.65 115.81,298.87 112.16,300.11 108.51,301.36 104.86,302.62 101.21,303.90 97.56,305.18 93.91,306.47 90.26,307.76 86.61,309.06 82.96,310.37 79.31,311.68 75.65,313.00 72.00,314.32 68.35,315.64 64.70,316.96 61.05,318.29 57.40,319.62"/></clipPath>
<g clip-path="url(#bc3red)"><path d="M-43.60 317.80L55.40 218.80M-41.94 317.80L57.06 218.80M-40.27 317.80L58.73 218.80M-38.61 317.80L60.39 218.80M-36.94 317.80L62.06 218.80M-35.28 317.80L63.72 218.80M-33.62 317.80L65.38 218.80M-31.95 317.80L67.05 218.80M-30.29 317.80L68.71 218.80M-28.62 317.80L70.38 218.80M-26.96 317.80L72.04 218.80M-25.30 317.80L73.70 218.80M-23.63 317.80L75.37 218.80M-21.97 317.80L77.03 218.80M-20.30 317.80L78.70 218.80M-18.64 317.80L80.36 218.80M-16.98 317.80L82.02 218.80M-15.31 317.80L83.69 218.80M-13.65 317.80L85.35 218.80M-11.98 317.80L87.02 218.80M-10.32 317.80L88.68 218.80M-8.66 317.80L90.34 218.80M-6.99 317.80L92.01 218.80M-5.33 317.80L93.67 218.80M-3.66 317.80L95.34 218.80M-2.00 317.80L97.00 218.80M-0.34 317.80L98.66 218.80M1.33 317.80L100.33 218.80M2.99 317.80L101.99 218.80M4.66 317.80L103.66 218.80M6.32 317.80L105.32 218.80M7.98 317.80L106.98 218.80M9.65 317.80L108.65 218.80M11.31 317.80L110.31 218.80M12.98 317.80L111.98 218.80M14.64 317.80L113.64 218.80M16.30 317.80L115.30 218.80M17.97 317.80L116.97 218.80M19.63 317.80L118.63 218.80M21.30 317.80L120.30 218.80M22.96 317.80L121.96 218.80M24.62 317.80L123.62 218.80M26.29 317.80L125.29 218.80M27.95 317.80L126.95 218.80M29.62 317.80L128.62 218.80M31.28 317.80L130.28 218.80M32.94 317.80L131.94 218.80M34.61 317.80L133.61 218.80M36.27 317.80L135.27 218.80M37.94 317.80L136.94 218.80M39.60 317.80L138.60 218.80M41.26 317.80L140.26 218.80M42.93 317.80L141.93 218.80M44.59 317.80L143.59 218.80M46.26 317.80L145.26 218.80M47.92 317.80L146.92 218.80M49.58 317.80L148.58 218.80M51.25 317.80L150.25 218.80M52.91 317.80L151.91 218.80M54.58 317.80L153.58 218.80M56.24 317.80L155.24 218.80M57.90 317.80L156.90 218.80M59.57 317.80L158.57 218.80M61.23 317.80L160.23 218.80M62.90 317.80L161.90 218.80M64.56 317.80L163.56 218.80M66.22 317.80L165.22 218.80M67.89 317.80L166.89 218.80M69.55 317.80L168.55 218.80M71.22 317.80L170.22 218.80M72.88 317.80L171.88 218.80M74.54 317.80L173.54 218.80M76.21 317.80L175.21 218.80M77.87 317.80L176.87 218.80M79.54 317.80L178.54 218.80M81.20 317.80L180.20 218.80M82.86 317.80L181.86 218.80M84.53 317.80L183.53 218.80M86.19 317.80L185.19 218.80M87.86 317.80L186.86 218.80M89.52 317.80L188.52 218.80M91.18 317.80L190.18 218.80M92.85 317.80L191.85 218.80M94.51 317.80L193.51 218.80M96.18 317.80L195.18 218.80M97.84 317.80L196.84 218.80M99.50 317.80L198.50 218.80M101.17 317.80L200.17 218.80M102.83 317.80L201.83 218.80M104.50 317.80L203.50 218.80M106.16 317.80L205.16 218.80M107.82 317.80L206.82 218.80M109.49 317.80L208.49 218.80M111.15 317.80L210.15 218.80M112.82 317.80L211.82 218.80M114.48 317.80L213.48 218.80M116.14 317.80L215.14 218.80M117.81 317.80L216.81 218.80M119.47 317.80L218.47 218.80M121.14 317.80L220.14 218.80M122.80 317.80L221.80 218.80M124.46 317.80L223.46 218.80M126.13 317.80L225.13 218.80M127.79 317.80L226.79 218.80M129.46 317.80L228.46 218.80M131.12 317.80L230.12 218.80M132.78 317.80L231.78 218.80M134.45 317.80L233.45 218.80M136.11 317.80L235.11 218.80M137.78 317.80L236.78 218.80M139.44 317.80L238.44 218.80M141.10 317.80L240.10 218.80M142.77 317.80L241.77 218.80M144.43 317.80L243.43 218.80M146.10 317.80L245.10 218.80M147.76 317.80L246.76 218.80M149.42 317.80L248.42 218.80M151.09 317.80L250.09 218.80M152.75 317.80L251.75 218.80M154.42 317.80L253.42 218.80M156.08 317.80L255.08 218.80M157.74 317.80L256.74 218.80M159.41 317.80L258.41 218.80M161.07 317.80L260.07 218.80M162.74 317.80L261.74 218.80M164.40 317.80L263.40 218.80M166.06 317.80L265.06 218.80M167.73 317.80L266.73 218.80M169.39 317.80L268.39 218.80M171.06 317.80L270.06 218.80M172.72 317.80L271.72 218.80M174.38 317.80L273.38 218.80M176.05 317.80L275.05 218.80M177.71 317.80L276.71 218.80M179.38 317.80L278.38 218.80M181.04 317.80L280.04 218.80M182.70 317.80L281.70 218.80M184.37 317.80L283.37 218.80M186.03 317.80L285.03 218.80M187.70 317.80L286.70 218.80M189.36 317.80L288.36 218.80M191.02 317.80L290.02 218.80M192.69 317.80L291.69 218.80M194.35 317.80L293.35 218.80M196.02 317.80L295.02 218.80M197.68 317.80L296.68 218.80M199.34 317.80L298.34 218.80M201.01 317.80L300.01 218.80M202.67 317.80L301.67 218.80M204.34 317.80L303.34 218.80M206.00 317.80L305.00 218.80M207.66 317.80L306.66 218.80M209.33 317.80L308.33 218.80M210.99 317.80L309.99 218.80M212.66 317.80L311.66 218.80M214.32 317.80L313.32 218.80M215.98 317.80L314.98 218.80M217.65 317.80L316.65 218.80M219.31 317.80L318.31 218.80M220.98 317.80L319.98 218.80M222.64 317.80L321.64 218.80M224.30 317.80L323.30 218.80M225.97 317.80L324.97 218.80M227.63 317.80L326.63 218.80M229.30 317.80L328.30 218.80M230.96 317.80L329.96 218.80M232.62 317.80L331.62 218.80M234.29 317.80L333.29 218.80M235.95 317.80L334.95 218.80M237.62 317.80L336.62 218.80M239.28 317.80L338.28 218.80M240.94 317.80L339.94 218.80M242.61 317.80L341.61 218.80M244.27 317.80L343.27 218.80M245.94 317.80L344.94 218.80M247.60 317.80L346.60 218.80M249.26 317.80L348.26 218.80M250.93 317.80L349.93 218.80M252.59 317.80L351.59 218.80M254.26 317.80L353.26 218.80M255.92 317.80L354.92 218.80M257.58 317.80L356.58 218.80M259.25 317.80L358.25 218.80M260.91 317.80L359.91 218.80M262.58 317.80L361.58 218.80M264.24 317.80L363.24 218.80M265.90 317.80L364.90 218.80M267.57 317.80L366.57 218.80M269.23 317.80L368.23 218.80M270.90 317.80L369.90 218.80M272.56 317.80L371.56 218.80M274.22 317.80L373.22 218.80M275.89 317.80L374.89 218.80M277.55 317.80L376.55 218.80M279.22 317.80L378.22 218.80M280.88 317.80L379.88 218.80M282.54 317.80L381.54 218.80M284.21 317.80L383.21 218.80M285.87 317.80L384.87 218.80M287.54 317.80L386.54 218.80M289.20 317.80L388.20 218.80M290.86 317.80L389.86 218.80M292.53 317.80L391.53 218.80M294.19 317.80L393.19 218.80M295.86 317.80L394.86 218.80M297.52 317.80L396.52 218.80M299.18 317.80L398.18 218.80M300.85 317.80L399.85 218.80M302.51 317.80L401.51 218.80M304.18 317.80L403.18 218.80" stroke="#ff0000" stroke-width="0.74" fill="none"/></g>
<clipPath id="bc3blue"><polygon points="57.40,265.38 61.05,266.28 64.70,267.18 68.35,268.08 72.00,268.98 75.65,269.88 79.31,270.77 82.96,271.66 86.61,272.54 90.26,273.43 93.91,274.30 97.56,275.18 101.21,276.04 104.86,276.90 108.51,277.76 112.16,278.60 115.81,279.44 119.46,280.26 123.12,281.06 126.77,281.85 130.42,282.62 134.07,283.37 137.72,284.08 141.37,284.75 145.02,285.38 148.67,285.95 152.32,286.45 155.97,286.87 159.62,287.20 163.27,287.43 166.93,287.55 170.58,287.56 174.23,287.47 177.88,287.29 181.53,287.03 185.18,286.70 188.83,286.32 192.48,285.89 196.13,285.42 199.78,284.93 203.43,284.40 203.43,305.18 199.78,304.41 196.13,303.67 192.48,302.95 188.83,302.28 185.18,301.65 181.53,301.07 177.88,300.57 174.23,300.14 170.58,299.81 166.93,299.58 163.27,299.45 159.62,299.43 155.97,299.51 152.32,299.69 148.67,299.94 145.02,300.27 141.37,300.65 137.72,301.08 134.07,301.54 130.42,302.04 126.77,302.56 123.12,303.10 119.46,303.67 115.81,304.24 112.16,304.83 108.51,305.43 104.86,306.03 101.21,306.65 97.56,307.27 93.91,307.90 90.26,308.53 86.61,309.16 82.96,309.80 79.31,310.45 75.65,311.09 72.00,311.74 68.35,312.39 64.70,313.05 61.05,313.70 57.40,314.36"/></clipPath>
<g clip-path="url(#bc3blue)"><path d="M-43.60 218.80L55.40 317.80M-41.94 218.80L57.06 317.80M-40.27 218.80L58.73 317.80M-38.61 218.80L60.39 317.80M-36.94 218.80L62.06 317.80M-35.28 218.80L63.72 317.80M-33.62 218.80L65.38 317.80M-31.95 218.80L67.05 317.80M-30.29 218.80L68.71 317.80M-28.62 218.80L70.38 317.80M-26.96 218.80L72.04 317.80M-25.30 218.80L73.70 317.80M-23.63 218.80L75.37 317.80M-21.97 218.80L77.03 317.80M-20.30 218.80L78.70 317.80M-18.64 218.80L80.36 317.80M-16.98 218.80L82.02 317.80M-15.31 218.80L83.69 317.80M-13.65 218.80L85.35 317.80M-11.98 218.80L87.02 317.80M-10.32 218.80L88.68 317.80M-8.66 218.80L90.34 317.80M-6.99 218.80L92.01 317.80M-5.33 218.80L93.67 317.80M-3.66 218.80L95.34 317.80M-2.00 218.80L97.00 317.80M-0.34 218.80L98.66 317.80M1.33 218.80L100.33 317.80M2.99 218.80L101.99 317.80M4.66 218.80L103.66 317.80M6.32 218.80L105.32 317.80M7.98 218.80L106.98 317.80M9.65 218.80L108.65 317.80M11.31 218.80L110.31 317.80M12.98 218.80L111.98 317.80M14.64 218.80L113.64 317.80M16.30 218.80L115.30 317.80M17.97 218.80L116.97 317.80M19.63 218.80L118.63 317.80M21.30 218.80L120.30 317.80M22.96 218.80L121.96 317.80M24.62 218.80L123.62 317.80M26.29 218.80L125.29 317.80M27.95 218.80L126.95 317.80M29.62 218.80L128.62 317.80M31.28 218.80L130.28 317.80M32.94 218.80L131.94 317.80M34.61 218.80L133.61 317.80M36.27 218.80L135.27 317.80M37.94 218.80L136.94 317.80M39.60 218.80L138.60 317.80M41.26 218.80L140.26 317.80M42.93 218.80L141.93 317.80M44.59 218.80L143.59 317.80M46.26 218.80L145.26 317.80M47.92 218.80L146.92 317.80M49.58 218.80L148.58 317.80M51.25 218.80L150.25 317.80M52.91 218.80L151.91 317.80M54.58 218.80L153.58 317.80M56.24 218.80L155.24 317.80M57.90 218.80L156.90 317.80M59.57 218.80L158.57 317.80M61.23 218.80L160.23 317.80M62.90 218.80L161.90 317.80M64.56 218.80L163.56 317.80M66.22 218.80L165.22 317.80M67.89 218.80L166.89 317.80M69.55 218.80L168.55 317.80M71.22 218.80L170.22 317.80M72.88 218.80L171.88 317.80M74.54 218.80L173.54 317.80M76.21 218.80L175.21 317.80M77.87 218.80L176.87 317.80M79.54 218.80L178.54 317.80M81.20 218.80L180.20 317.80M82.86 218.80L181.86 317.80M84.53 218.80L183.53 317.80M86.19 218.80L185.19 317.80M87.86 218.80L186.86 317.80M89.52 218.80L188.52 317.80M91.18 218.80L190.18 317.80M92.85 218.80L191.85 317.80M94.51 218.80L193.51 317.80M96.18 218.80L195.18 317.80M97.84 218.80L196.84 317.80M99.50 218.80L198.50 317.80M101.17 218.80L200.17 317.80M102.83 218.80L201.83 317.80M104.50 218.80L203.50 317.80M106.16 218.80L205.16 317.80M107.82 218.80L206.82 317.80M109.49 218.80L208.49 317.80M111.15 218.80L210.15 317.80M112.82 218.80L211.82 317.80M114.48 218.80L213.48 317.80M116.14 218.80L215.14 317.80M117.81 218.80L216.81 317.80M119.47 218.80L218.47 317.80M121.14 218.80L220.14 317.80M122.80 218.80L221.80 317.80M124.46 218.80L223.46 317.80M126.13 218.80L225.13 317.80M127.79 218.80L226.79 317.80M129.46 218.80L228.46 317.80M131.12 218.80L230.12 317.80M132.78 218.80L231.78 317.80M134.45 218.80L233.45 317.80M136.11 218.80L235.11 317.80M137.78 218.80L236.78 317.80M139.44 218.80L238.44 317.80M141.10 218.80L240.10 317.80M142.77 218.80L241.77 317.80M144.43 218.80L243.43 317.80M146.10 218.80L245.10 317.80M147.76 218.80L246.76 317.80M149.42 218.80L248.42 317.80M151.09 218.80L250.09 317.80M152.75 218.80L251.75 317.80M154.42 218.80L253.42 317.80M156.08 218.80L255.08 317.80M157.74 218.80L256.74 317.80M159.41 218.80L258.41 317.80M161.07 218.80L260.07 317.80M162.74 218.80L261.74 317.80M164.40 218.80L263.40 317.80M166.06 218.80L265.06 317.80M167.73 218.80L266.73 317.80M169.39 218.80L268.39 317.80M171.06 218.80L270.06 317.80M172.72 218.80L271.72 317.80M174.38 218.80L273.38 317.80M176.05 218.80L275.05 317.80M177.71 218.80L276.71 317.80M179.38 218.80L278.38 317.80M181.04 218.80L280.04 317.80M182.70 218.80L281.70 317.80M184.37 218.80L283.37 317.80M186.03 218.80L285.03 317.80M187.70 218.80L286.70 317.80M189.36 218.80L288.36 317.80M191.02 218.80L290.02 317.80M192.69 218.80L291.69 317.80M194.35 218.80L293.35 317.80M196.02 218.80L295.02 317.80M197.68 218.80L296.68 317.80M199.34 218.80L298.34 317.80M201.01 218.80L300.01 317.80M202.67 218.80L301.67 317.80M204.34 218.80L303.34 317.80M206.00 218.80L305.00 317.80M207.66 218.80L306.66 317.80M209.33 218.80L308.33 317.80M210.99 218.80L309.99 317.80M212.66 218.80L311.66 317.80M214.32 218.80L313.32 317.80M215.98 218.80L314.98 317.80M217.65 218.80L316.65 317.80M219.31 218.80L318.31 317.80M220.98 218.80L319.98 317.80M222.64 218.80L321.64 317.80M224.30 218.80L323.30 317.80M225.97 218.80L324.97 317.80M227.63 218.80L326.63 317.80M229.30 218.80L328.30 317.80M230.96 218.80L329.96 317.80M232.62 218.80L331.62 317.80M234.29 218.80L333.29 317.80M235.95 218.80L334.95 317.80M237.62 218.80L336.62 317.80M239.28 218.80L338.28 317.80M240.94 218.80L339.94 317.80M242.61 218.80L341.61 317.80M244.27 218.80L343.27 317.80M245.94 218.80L344.94 317.80M247.60 218.80L346.60 317.80M249.26 218.80L348.26 317.80M250.93 218.80L349.93 317.80M252.59 218.80L351.59 317.80M254.26 218.80L353.26 317.80M255.92 218.80L354.92 317.80M257.58 218.80L356.58 317.80M259.25 218.80L358.25 317.80M260.91 218.80L359.91 317.80M262.58 218.80L361.58 317.80M264.24 218.80L363.24 317.80M265.90 218.80L364.90 317.80M267.57 218.80L366.57 317.80M269.23 218.80L368.23 317.80M270.90 218.80L369.90 317.80M272.56 218.80L371.56 317.80M274.22 218.80L373.22 317.80M275.89 218.80L374.89 317.80M277.55 218.80L376.55 317.80M279.22 218.80L378.22 317.80M280.88 218.80L379.88 317.80M282.54 218.80L381.54 317.80M284.21 218.80L383.21 317.80M285.87 218.80L384.87 317.80M287.54 218.80L386.54 317.80M289.20 218.80L388.20 317.80M290.86 218.80L389.86 317.80M292.53 218.80L391.53 317.80M294.19 218.80L393.19 317.80M295.86 218.80L394.86 317.80M297.52 218.80L396.52 317.80M299.18 218.80L398.18 317.80M300.85 218.80L399.85 317.80M302.51 218.80L401.51 317.80M304.18 218.80L403.18 317.80" stroke="#0000ff" stroke-width="0.74" fill="none"/></g>
<line x1="57.40" y1="291.71" x2="203.43" y2="273.52" stroke="#ff0000" stroke-width="2.15"/>
<line x1="202.60" y1="273.62" x2="300.79" y2="261.39" stroke="#ff0000" stroke-width="1.90" stroke-dasharray="5.5 3.55"/>
<line x1="57.40" y1="289.87" x2="203.43" y2="294.79" stroke="#0000ff" stroke-width="2.15"/>
<line x1="202.60" y1="294.76" x2="300.79" y2="298.07" stroke="#0000ff" stroke-width="1.90" stroke-dasharray="5.5 3.55"/>
<path d="M113.90 252.70V293.30M111.35 252.70H116.45M111.35 293.30H116.45" stroke="#ff0000" stroke-width="1.70" fill="none"/>
<rect x="110.70" y="269.80" width="6.40" height="6.40" fill="none" stroke="#ff0000" stroke-width="1.7"/>
<path d="M138.60 277.00V302.30M136.05 277.00H141.15M136.05 302.30H141.15" stroke="#ff0000" stroke-width="1.70" fill="none"/>
<rect x="135.40" y="286.00" width="6.40" height="6.40" fill="none" stroke="#ff0000" stroke-width="1.7"/>
<path d="M184.70 266.20V283.00M182.15 266.20H187.25M182.15 283.00H187.25" stroke="#ff0000" stroke-width="1.70" fill="none"/>
<rect x="181.50" y="271.40" width="6.40" height="6.40" fill="none" stroke="#ff0000" stroke-width="1.7"/>
<path d="M282.80 231.40V247.20M280.25 231.40H285.35M280.25 247.20H285.35" stroke="#ff0000" stroke-width="1.70" fill="none"/>
<rect x="279.60" y="236.10" width="6.40" height="6.40" fill="none" stroke="#ff0000" stroke-width="1.7"/>
<path d="M113.90 262.30V298.90M111.35 262.30H116.45M111.35 298.90H116.45" stroke="#0000ff" stroke-width="1.70" fill="none"/>
<rect x="110.70" y="277.40" width="6.40" height="6.40" fill="#0000ff"/>
<path d="M138.60 287.10V310.50M136.05 287.10H141.15M136.05 310.50H141.15" stroke="#0000ff" stroke-width="1.70" fill="none"/>
<rect x="135.40" y="295.60" width="6.40" height="6.40" fill="#0000ff"/>
<path d="M184.70 286.50V299.10M182.15 286.50H187.25M182.15 299.10H187.25" stroke="#0000ff" stroke-width="1.70" fill="none"/>
<rect x="181.50" y="289.60" width="6.40" height="6.40" fill="#0000ff"/>
<path d="M282.80 275.00V285.40M280.25 275.00H285.35M280.25 285.40H285.35" stroke="#0000ff" stroke-width="1.70" fill="none"/>
<rect x="279.60" y="277.00" width="6.40" height="6.40" fill="#0000ff"/>
</g>
<path d="M76.75 42.51L76.75 41.87L77.39 40.60L78.02 39.96L79.30 39.32L81.84 39.32L83.12 39.96L83.75 40.60L84.39 41.87L84.39 43.15L83.75 44.42L82.48 46.33L76.11 52.70L85.03 52.70 M89.49 42.51L89.49 41.87L90.12 40.60L90.76 39.96L92.04 39.32L94.58 39.32L95.86 39.96L96.50 40.60L97.13 41.87L97.13 43.15L96.50 44.42L95.22 46.33L88.85 52.70L97.77 52.70 M102.87 39.32L109.87 39.32L106.05 44.42L107.96 44.42L109.24 45.06L109.87 45.69L110.51 47.60L110.51 48.88L109.87 50.79L108.60 52.06L106.69 52.70L104.78 52.70L102.87 52.06L102.23 51.43L101.59 50.15 M124.52 39.32L124.52 52.70 M124.52 39.32L129.62 52.70 M134.72 39.32L129.62 52.70 M134.72 39.32L134.72 52.70 M139.17 47.60L146.82 47.60L146.82 46.33L146.18 45.06L145.54 44.42L144.27 43.78L142.36 43.78L141.09 44.42L139.81 45.69L139.17 47.60L139.17 48.88L139.81 50.79L141.09 52.06L142.36 52.70L144.27 52.70L145.54 52.06L146.82 50.79 M149.37 39.32L154.46 52.70 M159.56 39.32L154.46 52.70 M78.53 140.77L79.81 140.13L81.65 138.22L81.65 151.60 M97.13 140.13L96.50 138.86L94.58 138.22L93.31 138.22L91.40 138.86L90.12 140.77L89.49 143.96L89.49 147.14L90.12 149.69L91.40 150.96L93.31 151.60L93.95 151.60L95.86 150.96L97.13 149.69L97.77 147.78L97.77 147.14L97.13 145.23L95.86 143.96L93.95 143.32L93.31 143.32L91.40 143.96L90.12 145.23L89.49 147.14 M110.51 138.22L104.14 151.60 M101.59 138.22L110.51 138.22 M124.52 138.22L124.52 151.60 M124.52 138.22L129.62 151.60 M134.72 138.22L129.62 151.60 M134.72 138.22L134.72 151.60 M139.17 146.50L146.82 146.50L146.82 145.23L146.18 143.96L145.54 143.32L144.27 142.68L142.36 142.68L141.09 143.32L139.81 144.59L139.17 146.50L139.17 147.78L139.81 149.69L141.09 150.96L142.36 151.60L144.27 151.60L145.54 150.96L146.82 149.69 M149.37 138.22L154.46 151.60 M159.56 138.22L154.46 151.60 M78.53 236.97L79.81 236.33L81.65 234.42L81.65 247.80 M90.12 234.42L97.13 234.42L93.31 239.52L95.22 239.52L96.50 240.16L97.13 240.79L97.77 242.70L97.77 243.98L97.13 245.89L95.86 247.16L93.95 247.80L92.04 247.80L90.12 247.16L89.49 246.53L88.85 245.25 M102.23 237.61L102.23 236.97L102.87 235.70L103.50 235.06L104.78 234.42L107.32 234.42L108.60 235.06L109.24 235.70L109.87 236.97L109.87 238.25L109.24 239.52L107.96 241.43L101.59 247.80L110.51 247.80 M124.52 234.42L124.52 247.80 M124.52 234.42L129.62 247.80 M134.72 234.42L129.62 247.80 M134.72 234.42L134.72 247.80 M139.17 242.70L146.82 242.70L146.82 241.43L146.18 240.16L145.54 239.52L144.27 238.88L142.36 238.88L141.09 239.52L139.81 240.79L139.17 242.70L139.17 243.98L139.81 245.89L141.09 247.16L142.36 247.80L144.27 247.80L145.54 247.16L146.82 245.89 M149.37 234.42L154.46 247.80 M159.56 234.42L154.46 247.80 M353.40 46.01L347.00 46.01L346.36 51.77L347.00 51.13L348.92 50.49L350.84 50.49L352.76 51.13L354.04 52.41L354.68 54.33L354.68 55.61L354.04 57.53L352.76 58.81L350.84 59.45L348.92 59.45L347.00 58.81L346.36 58.17L345.72 56.89 M352.12 81.21L345.72 90.17L355.32 90.17 M352.12 81.21L352.12 94.65 M354.04 134.43L353.40 133.15L351.48 132.51L350.20 132.51L348.28 133.15L347.00 135.07L346.36 138.27L346.36 141.47L347.00 144.03L348.28 145.31L350.20 145.95L350.84 145.95L352.76 145.31L354.04 144.03L354.68 142.11L354.68 141.47L354.04 139.55L352.76 138.27L350.84 137.63L350.20 137.63L348.28 138.27L347.00 139.55L346.36 141.47 M353.40 154.01L347.00 154.01L346.36 159.77L347.00 159.13L348.92 158.49L350.84 158.49L352.76 159.13L354.04 160.41L354.68 162.33L354.68 163.61L354.04 165.53L352.76 166.81L350.84 167.45L348.92 167.45L347.00 166.81L346.36 166.17L345.72 164.89 M352.12 175.51L345.72 184.47L355.32 184.47 M352.12 175.51L352.12 188.95 M347.00 197.01L354.04 197.01L350.20 202.13L352.12 202.13L353.40 202.77L354.04 203.41L354.68 205.33L354.68 206.61L354.04 208.53L352.76 209.81L350.84 210.45L348.92 210.45L347.00 209.81L346.36 209.17L345.72 207.89 M346.36 238.71L346.36 238.07L347.00 236.79L347.64 236.15L348.92 235.51L351.48 235.51L352.76 236.15L353.40 236.79L354.04 238.07L354.04 239.35L353.40 240.63L352.12 242.55L345.72 248.95L354.68 248.95 M348.15 266.92L349.43 266.28L351.29 264.36L351.29 277.80 M360.44 276.52L359.80 277.16L360.44 277.80L361.08 277.16L360.44 276.52 M373.88 264.36L367.48 264.36L366.84 270.12L367.48 269.48L369.40 268.84L371.32 268.84L373.24 269.48L374.52 270.76L375.16 272.68L375.16 273.96L374.52 275.88L373.24 277.16L371.32 277.80L369.40 277.80L367.48 277.16L366.84 276.52L366.20 275.24 M348.15 295.77L349.43 295.13L351.29 293.21L351.29 306.65 M56.75 329.44L54.82 330.10L53.53 332.06L52.88 335.34L52.88 337.31L53.53 340.58L54.82 342.55L56.75 343.20L58.04 343.20L59.98 342.55L61.27 340.58L61.91 337.31L61.91 335.34L61.27 332.06L59.98 330.10L58.04 329.44L56.75 329.44 M121.76 329.44L119.83 330.10L118.53 332.06L117.89 335.34L117.89 337.31L118.53 340.58L119.83 342.55L121.76 343.20L123.05 343.20L124.98 342.55L126.28 340.58L126.92 337.31L126.92 335.34L126.28 332.06L124.98 330.10L123.05 329.44L121.76 329.44 M132.08 341.89L131.44 342.55L132.08 343.20L132.72 342.55L132.08 341.89 M141.11 329.44L139.18 330.10L137.88 332.06L137.24 335.34L137.24 337.31L137.88 340.58L139.18 342.55L141.11 343.20L142.40 343.20L144.34 342.55L145.62 340.58L146.27 337.31L146.27 335.34L145.62 332.06L144.34 330.10L142.40 329.44L141.11 329.44 M152.59 332.06L153.88 331.41L155.75 329.44L155.75 343.20 M202.89 329.44L200.96 330.10L199.67 332.06L199.02 335.34L199.02 337.31L199.67 340.58L200.96 342.55L202.89 343.20L204.18 343.20L206.12 342.55L207.41 340.58L208.05 337.31L208.05 335.34L207.41 332.06L206.12 330.10L204.18 329.44L202.89 329.44 M213.21 341.89L212.56 342.55L213.21 343.20L213.86 342.55L213.21 341.89 M222.24 329.44L220.31 330.10L219.02 332.06L218.37 335.34L218.37 337.31L219.02 340.58L220.31 342.55L222.24 343.20L223.53 343.20L225.47 342.55L226.75 340.58L227.40 337.31L227.40 335.34L226.75 332.06L225.47 330.10L223.53 329.44L222.24 329.44 M231.92 332.72L231.92 332.06L232.56 330.75L233.21 330.10L234.50 329.44L237.08 329.44L238.37 330.10L239.01 330.75L239.66 332.06L239.66 333.38L239.01 334.69L237.72 336.65L231.27 343.20L240.30 343.20 M284.02 329.44L282.08 330.10L280.79 332.06L280.15 335.34L280.15 337.31L280.79 340.58L282.08 342.55L284.02 343.20L285.31 343.20L287.25 342.55L288.53 340.58L289.18 337.31L289.18 335.34L288.53 332.06L287.25 330.10L285.31 329.44L284.02 329.44 M294.34 341.89L293.69 342.55L294.34 343.20L294.98 342.55L294.34 341.89 M303.37 329.44L301.43 330.10L300.14 332.06L299.50 335.34L299.50 337.31L300.14 340.58L301.43 342.55L303.37 343.20L304.66 343.20L306.59 342.55L307.88 340.58L308.53 337.31L308.53 335.34L307.88 332.06L306.59 330.10L304.66 329.44L303.37 329.44 M313.69 329.44L320.78 329.44L316.91 334.69L318.85 334.69L320.14 335.34L320.78 336.00L321.43 337.96L321.43 339.27L320.78 341.24L319.50 342.55L317.56 343.20L315.62 343.20L313.69 342.55L313.04 341.89L312.40 340.58 M167.17 360.13L168.43 359.57L170.25 357.90L170.25 369.60 M188.02 355.01L176.72 374.40 M191.79 357.90L191.79 369.60 M191.79 357.90L200.58 369.60 M200.58 357.90L200.58 369.60 M12.16 191.95L24.30 191.95 M10.00 182.40L11.20 183.67L13.00 184.94L15.40 186.22L18.40 186.86L20.80 186.86L23.80 186.22L26.20 184.94L28.00 183.67L29.20 182.40 M12.16 174.75L24.30 174.75 M12.16 178.70L12.16 170.80 M10.00 168.38L11.20 167.11L13.00 165.84L15.40 164.56L18.40 163.92L20.80 163.92L23.80 164.56L26.20 165.84L28.00 167.11L29.20 168.38 M10.00 148.64L29.20 160.10 M12.16 141.63L24.30 141.63 M12.16 145.58L12.16 137.68" stroke="#000" stroke-width="1.8" fill="none" stroke-linecap="round" stroke-linejoin="round"/>
<path d="M206.10 359.64L206.10 359.28L206.45 358.56L206.80 358.20L207.50 357.84L208.90 357.84L209.60 358.20L209.95 358.56L210.30 359.28L210.30 360.00L209.95 360.72L209.25 361.80L205.75 365.40L210.65 365.40 M206.40 369.35L206.40 375.30L206.74 376.35L207.42 376.70L208.10 376.70 M205.38 371.80L207.76 371.80 M11.37 132.33L15.99 136.23L15.99 130.38 M11.37 132.33L18.30 132.33" stroke="#000" stroke-width="1.65" fill="none" stroke-linecap="round" stroke-linejoin="round"/>
</svg>
</body></html>
